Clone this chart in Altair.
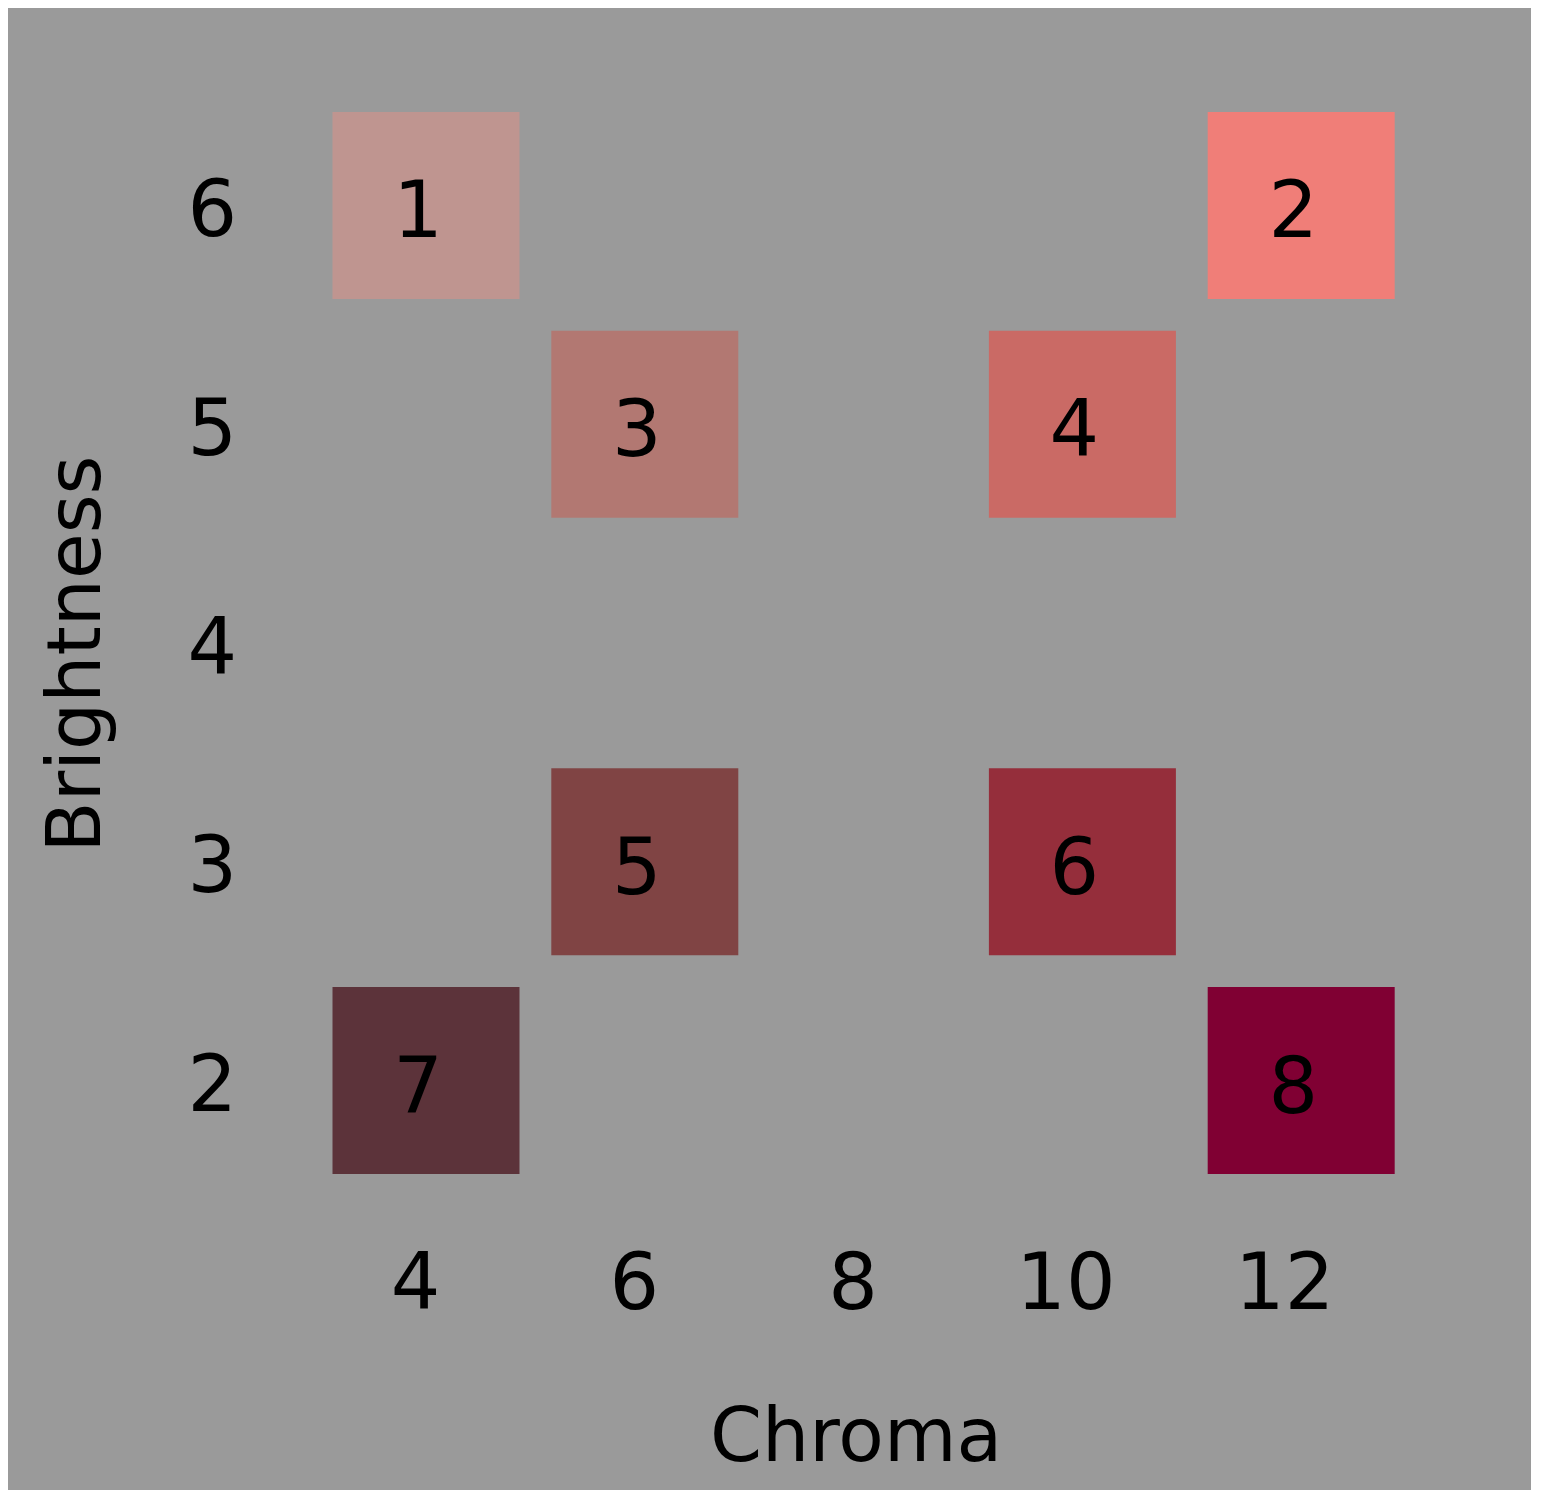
import altair as alt
import pandas as pd

chroma = [4, 12, 6, 10, 6, 10, 4, 12]
brightness = [6, 6, 5, 5, 3, 3, 2, 2]
labels = ["1", "2", "3", "4", "5", "6", "7", "8"]
colors = ["#BF9590", "#F07E78", "#B27872", "#CA6A65", "#804444", "#952E3B", "#5C333A", "#800033"]

df = pd.DataFrame({"Chroma": chroma, "Brightness": brightness, "label": labels, "color": colors})

FONT = "DejaVu Sans"
BG = "#9a9a9a"

x = alt.X("Chroma:Q", scale=alt.Scale(domain=[3, 13], nice=False, zero=False),
          axis=alt.Axis(values=[4, 6, 8, 10, 12], format="d", title="Chroma", grid=False, domain=False,
                        ticks=False, labelFontSize=78, labelFont=FONT, labelColor="black",
                        labelPadding=57,
                        labelOffset={"condition": {"test": "datum.value >= 10", "value": -17}, "value": -11},
                        titleFontSize=74.5, titleFont=FONT, titleFontWeight="normal", titleColor="black",
                        titleX=539, titleY=271, titleBaseline="alphabetic", titleAlign="center"))
y = alt.Y("Brightness:Q", scale=alt.Scale(domain=[1.5, 6.5], nice=False, zero=False),
          axis=alt.Axis(values=[2, 3, 4, 5, 6], format="d", title="Brightness", grid=False, domain=False,
                        ticks=False, labelFontSize=78, labelFont=FONT, labelColor="black",
                        labelPadding=80, labelOffset=7,
                        titleFontSize=74.5, titleFont=FONT, titleFontWeight="normal", titleColor="black",
                        titleX=-238.6, titleY=557.5, titleBaseline="middle", titleAlign="center",
                        titleAngle=270))

squares = alt.Chart(df).mark_square(size=187 * 187, opacity=1, filled=True, strokeWidth=0).encode(
    x=x, y=y, color=alt.Color("color:N", scale=None)
)
texts = alt.Chart(df).mark_text(fontSize=78, font=FONT, color="black", baseline="middle",
                                align="center", dx=-8, dy=9).encode(
    x="Chroma:Q", y="Brightness:Q", text="label:N"
)

chart = (squares + texts).properties(
    width=1094, height=1094,
    autosize=alt.AutoSizeParams(type="none"),
    padding={"left": 308.6, "top": 88, "right": 120, "bottom": 300},
    background=BG,
).configure_view(stroke=None, fill=BG)

chart.save("out.html", embed_options={"renderer": "svg", "actions": False})
